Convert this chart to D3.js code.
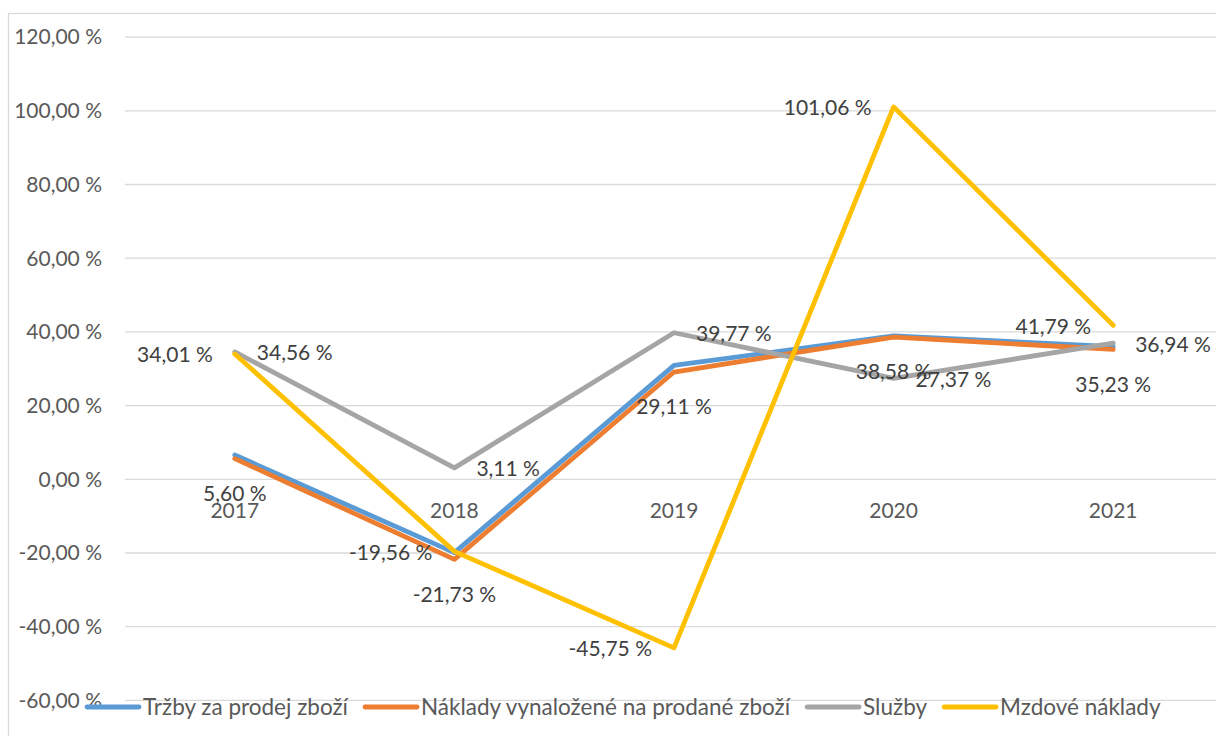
<!DOCTYPE html>
<html>
<head>
<meta charset="utf-8">
<script src="https://cdn.jsdelivr.net/npm/d3@7"></script>
<style>
  html, body { margin: 0; padding: 0; background: #fff; }
  svg { display: block; font-family: Lato, "Open Sans", sans-serif; }
</style>
</head>
<body>
<svg id="chart" width="1216" height="736"></svg>
<script>
// Years on the category axis
const years = ["2017", "2018", "2019", "2020", "2021"];

// Year-on-year change (%) per item
const trzby = [6.6, -19.9, 30.9, 38.9, 36.0];
const naklady = [5.60, -21.73, 29.11, 38.58, 35.23];
const sluzby = [34.56, 3.11, 39.77, 27.37, 36.94];
const mzdy = [34.01, -19.56, -45.75, 101.06, 41.79];

const seriesNames = ["Tržby za prodej zboží", "Náklady vynaložené na prodané zboží", "Služby", "Mzdové náklady"];
const seriesColors = ["#5B9BD5", "#ED7D31", "#A5A5A5", "#FFC000"];

// Label placement for each point: l = left, r = right, b = below, null = no label
const labelPos = [
  [null, null, null, null, null],
  ["b", "b", "b", "b", "b"],
  ["r", "r", "r", "r", "r"],
  ["l", "l", "l", "l", "l"]
];

const yTicks = [-60, -40, -20, 0, 20, 40, 60, 80, 100, 120];

const series = [trzby, naklady, sluzby, mzdy].map((vals, i) => ({
  name: seriesNames[i], color: seriesColors[i],
  points: vals.map((v, j) => ({ year: years[j], value: v, pos: labelPos[i][j] }))
}));

const svg = d3.select("#chart");
// Czech number style: decimal comma, plain hyphen for negatives
const fmt = v => d3.format(".2f")(v).replace(".", ",").replace("\u2212", "-") + " %";

const x = d3.scalePoint().domain(years).range([125, 1223]).padding(0.5);
const y = d3.scaleLinear().domain([-60, 120]).range([700.4, 37.1]);

// Chart frame
svg.append("rect")
  .attr("x", 8.5).attr("y", 13.5).attr("width", 1230).attr("height", 740)
  .attr("fill", "none").attr("stroke", "#D9D9D9").attr("stroke-width", 1.3);

// Horizontal gridlines
svg.append("g").selectAll("line").data(yTicks).join("line")
  .attr("x1", 125).attr("x2", 1223)
  .attr("y1", d => y(d)).attr("y2", d => y(d))
  .attr("stroke", "#D9D9D9").attr("stroke-width", 1.3);

// Value axis labels
svg.append("g").selectAll("text").data(yTicks).join("text")
  .attr("x", 102).attr("y", d => y(d))
  .attr("dy", "0.35em").attr("text-anchor", "end")
  .attr("font-size", 21).attr("fill", "#595959")
  .text(d => fmt(d));

// Category labels sit just under the zero line
svg.append("g").selectAll("text").data(years).join("text")
  .attr("x", d => x(d)).attr("y", y(0) + 31)
  .attr("dy", "0.35em").attr("text-anchor", "middle")
  .attr("font-size", 21).attr("fill", "#595959")
  .text(d => d);

// Series lines
const line = d3.line().x(d => x(d.year)).y(d => y(d.value));
svg.append("g").selectAll("path").data(series).join("path")
  .attr("d", d => line(d.points))
  .attr("fill", "none")
  .attr("stroke", d => d.color)
  .attr("stroke-width", 4.8)
  .attr("stroke-linecap", "round")
  .attr("stroke-linejoin", "round");

// Data labels
const labels = svg.append("g").attr("font-size", 21).attr("fill", "#404040");
series.forEach(s => {
  s.points.forEach(p => {
    if (!p.pos) return;
    const px = x(p.year), py = y(p.value);
    const t = labels.append("text").attr("dy", "0.35em").text(fmt(p.value));
    if (p.pos === "l") t.attr("x", px - 22).attr("y", py + 1).attr("text-anchor", "end");
    else if (p.pos === "r") t.attr("x", px + 22).attr("y", py + 1).attr("text-anchor", "start");
    else t.attr("x", px).attr("y", py + 35).attr("text-anchor", "middle");
  });
});

// Legend along the bottom edge
const legend = svg.append("g").attr("transform", "translate(0,707)");
let lx = 85;
series.forEach(s => {
  legend.append("line")
    .attr("x1", lx + 2).attr("x2", lx + 54).attr("y1", 0).attr("y2", 0)
    .attr("stroke", s.color).attr("stroke-width", 4.8).attr("stroke-linecap", "round");
  const t = legend.append("text")
    .attr("x", lx + 58).attr("y", 0).attr("dy", "0.35em")
    .attr("font-size", 22.5).attr("fill", "#595959")
    .text(s.name);
  lx += 58 + t.node().getComputedTextLength() + 15;
});
</script>
</body>
</html>
